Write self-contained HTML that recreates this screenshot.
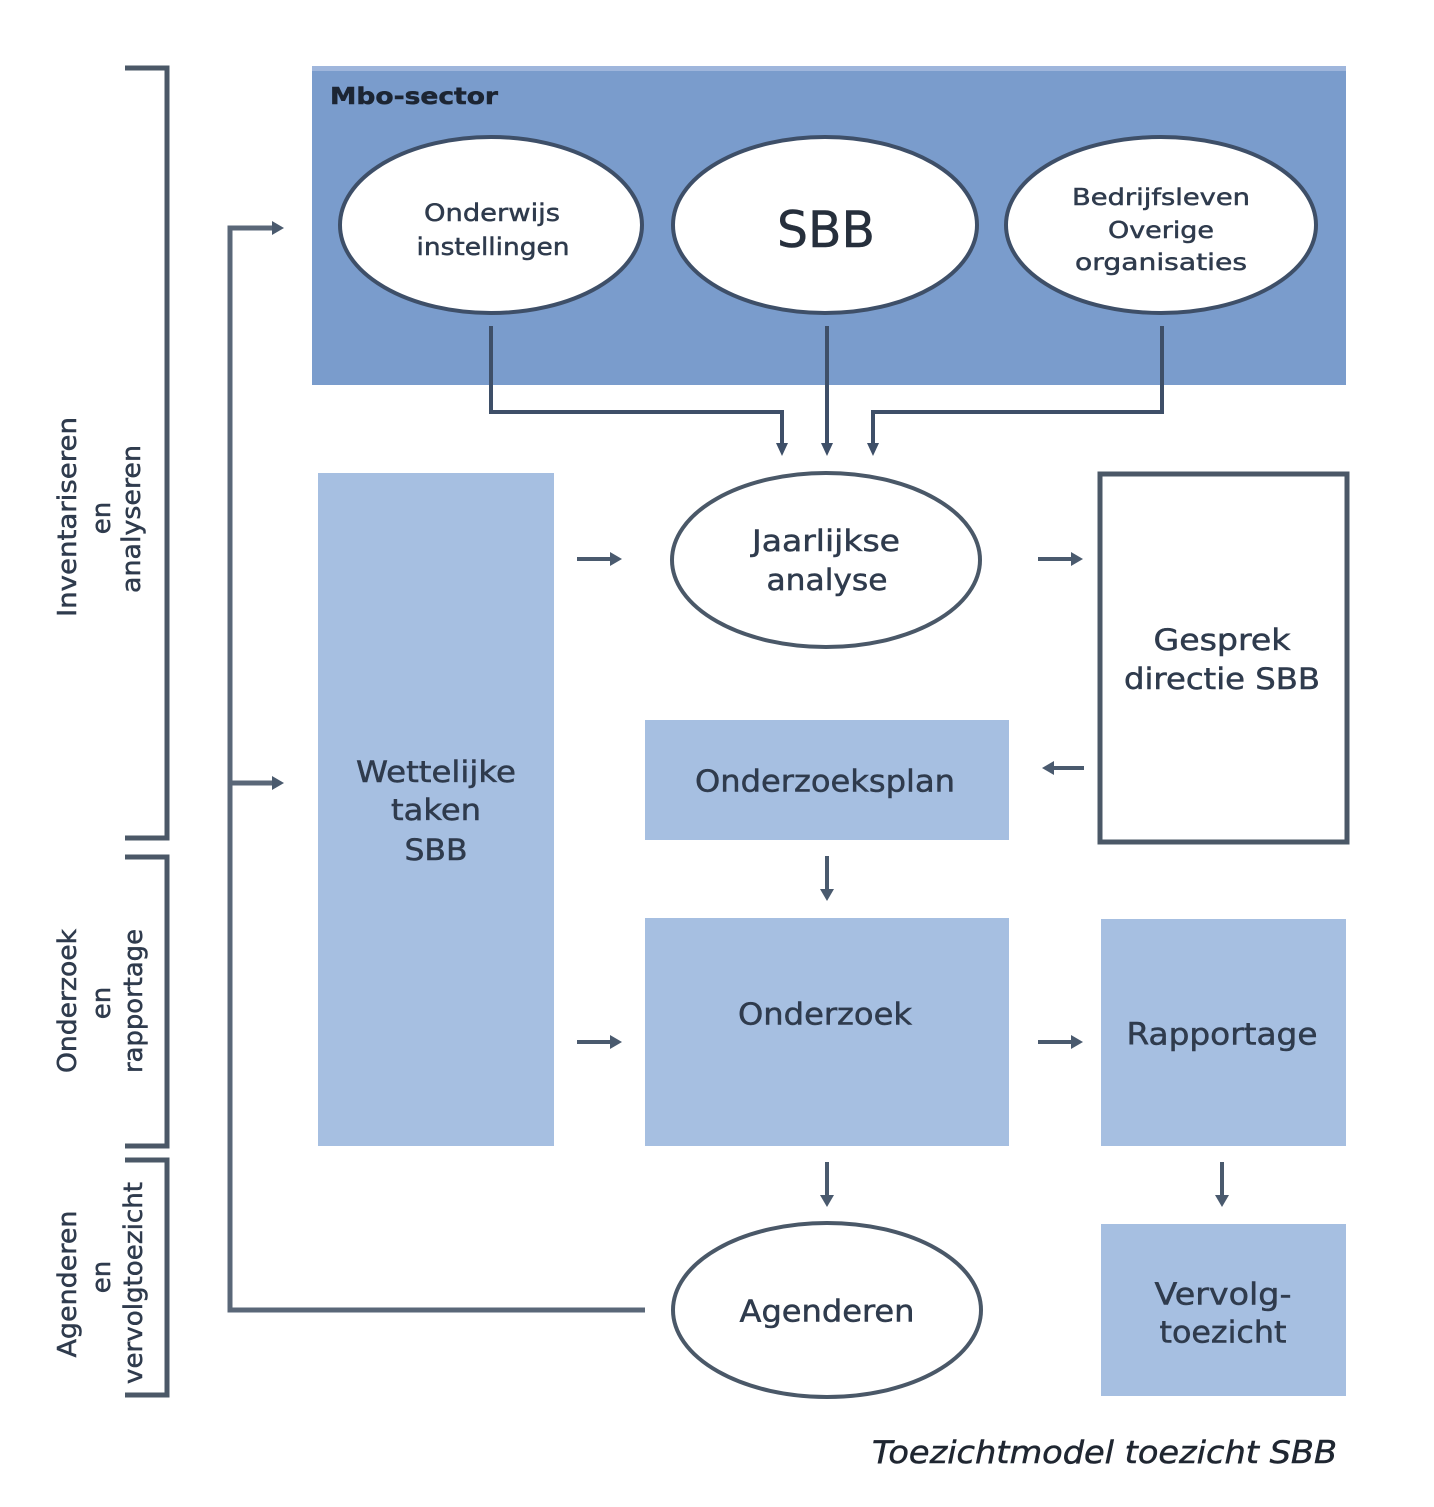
<!DOCTYPE html>
<html><head><meta charset="utf-8"><style>
html,body{margin:0;padding:0;background:#fff;}
svg{display:block;}
text{font-family:"DejaVu Sans","Liberation Sans",sans-serif;fill:#2f3b4d;stroke:#2f3b4d;stroke-width:0.5px;}
</style></head><body>
<svg width="1434" height="1507" viewBox="0 0 1434 1507" xmlns="http://www.w3.org/2000/svg">
<rect x="0" y="0" width="1434" height="1507" fill="#ffffff"/>

<!-- Left brackets -->
<g fill="none" stroke="#4b5867" stroke-width="5">
  <path d="M125 68 H167 V838 H125"/>
  <path d="M125 857 H167 V1146 H125"/>
  <path d="M125 1160 H167 V1395 H125"/>
</g>

<!-- Vertical labels -->
<g font-size="26" text-anchor="middle" dominant-baseline="central">
  <text transform="translate(68,517) rotate(-90)" textLength="200" lengthAdjust="spacingAndGlyphs">Inventariseren</text>
  <text transform="translate(102,518) rotate(-90)">en</text>
  <text transform="translate(132,519) rotate(-90)" textLength="148" lengthAdjust="spacingAndGlyphs">analyseren</text>

  <text transform="translate(68,1001) rotate(-90)" textLength="144" lengthAdjust="spacingAndGlyphs">Onderzoek</text>
  <text transform="translate(102,1003) rotate(-90)">en</text>
  <text transform="translate(134,1001) rotate(-90)" textLength="144" lengthAdjust="spacingAndGlyphs">rapportage</text>

  <text transform="translate(68,1284) rotate(-90)" textLength="147" lengthAdjust="spacingAndGlyphs">Agenderen</text>
  <text transform="translate(102,1277) rotate(-90)">en</text>
  <text transform="translate(134,1283) rotate(-90)" textLength="202" lengthAdjust="spacingAndGlyphs">vervolgtoezicht</text>
</g>

<!-- Feedback line -->
<g fill="none" stroke="#5a6778" stroke-width="5">
  <path d="M274 228 H230 V1310 H645"/>
  <path d="M230 783 H274"/>
</g>
<g fill="#4a5a6e">
  <polygon points="272,221 284,228 272,235"/>
  <polygon points="272,776 284,783 272,790"/>
</g>

<!-- Mbo-sector box -->
<rect x="312" y="66" width="1034" height="319" fill="#7a9ccc"/>
<rect x="312" y="66" width="1034" height="5" fill="#9fb6dc"/>
<text x="330" y="97" font-size="23" font-weight="bold" dominant-baseline="central" textLength="168" lengthAdjust="spacingAndGlyphs" style="fill:#1c2533;stroke:#1c2533">Mbo-sector</text>

<g fill="#ffffff" stroke="#3e4f68" stroke-width="4">
  <ellipse cx="491" cy="225" rx="151" ry="88"/>
  <ellipse cx="825" cy="225" rx="152" ry="88"/>
  <ellipse cx="1161" cy="225" rx="155" ry="88"/>
</g>
<g text-anchor="middle" dominant-baseline="central">
  <text x="492" y="213" font-size="24" textLength="136" lengthAdjust="spacingAndGlyphs">Onderwijs</text>
  <text x="493" y="247" font-size="24" textLength="153" lengthAdjust="spacingAndGlyphs">instellingen</text>
  <text x="826" y="230" font-size="50" textLength="98" lengthAdjust="spacingAndGlyphs" style="fill:#262f3c;stroke:#262f3c">SBB</text>
  <text x="1161" y="198" font-size="23" textLength="178" lengthAdjust="spacingAndGlyphs">Bedrijfsleven</text>
  <text x="1161" y="231" font-size="23" textLength="106" lengthAdjust="spacingAndGlyphs">Overige</text>
  <text x="1161" y="263" font-size="23" textLength="172" lengthAdjust="spacingAndGlyphs">organisaties</text>
</g>

<!-- connectors from ellipses -->
<g fill="none" stroke="#3e4f68" stroke-width="4">
  <path d="M491 326 V412 H782 V445"/>
  <path d="M827 326 V445"/>
  <path d="M1162 326 V412 H873 V445"/>
</g>
<g fill="#3e4f68">
  <polygon points="776,443 782,456 788,443"/>
  <polygon points="821,443 827,456 833,443"/>
  <polygon points="867,443 873,456 879,443"/>
</g>

<!-- Wettelijke taken SBB -->
<rect x="318" y="473" width="236" height="673" fill="#a6bfe1"/>
<g text-anchor="middle" dominant-baseline="central" font-size="29">
  <text x="436" y="772" textLength="160" lengthAdjust="spacingAndGlyphs">Wettelijke</text>
  <text x="436" y="810" textLength="90" lengthAdjust="spacingAndGlyphs">taken</text>
  <text x="436" y="850" textLength="63" lengthAdjust="spacingAndGlyphs">SBB</text>
</g>

<!-- Jaarlijkse analyse -->
<ellipse cx="826" cy="560" rx="154" ry="87" fill="#ffffff" stroke="#4a5868" stroke-width="4"/>
<g text-anchor="middle" dominant-baseline="central" font-size="29">
  <text x="826" y="541" textLength="148" lengthAdjust="spacingAndGlyphs">Jaarlijkse</text>
  <text x="827" y="580" textLength="121" lengthAdjust="spacingAndGlyphs">analyse</text>
</g>

<!-- Gesprek directie SBB -->
<rect x="1100" y="474" width="247" height="368" fill="#ffffff" stroke="#4b5867" stroke-width="5"/>
<g text-anchor="middle" dominant-baseline="central" font-size="29">
  <text x="1222" y="640" textLength="137" lengthAdjust="spacingAndGlyphs">Gesprek</text>
  <text x="1222" y="679" textLength="196" lengthAdjust="spacingAndGlyphs">directie SBB</text>
</g>

<!-- Onderzoeksplan -->
<rect x="645" y="720" width="364" height="120" fill="#a6bfe1"/>
<text x="825" y="782" font-size="30" text-anchor="middle" dominant-baseline="central" textLength="260" lengthAdjust="spacingAndGlyphs">Onderzoeksplan</text>

<!-- Onderzoek -->
<rect x="645" y="918" width="364" height="228" fill="#a6bfe1"/>
<text x="825" y="1015" font-size="30" text-anchor="middle" dominant-baseline="central" textLength="174" lengthAdjust="spacingAndGlyphs">Onderzoek</text>

<!-- Rapportage -->
<rect x="1101" y="919" width="245" height="227" fill="#a6bfe1"/>
<text x="1222" y="1035" font-size="30" text-anchor="middle" dominant-baseline="central" textLength="191" lengthAdjust="spacingAndGlyphs">Rapportage</text>

<!-- Agenderen -->
<ellipse cx="827" cy="1310" rx="154" ry="87" fill="#ffffff" stroke="#4a5868" stroke-width="4"/>
<text x="827" y="1312" font-size="30" text-anchor="middle" dominant-baseline="central" textLength="175" lengthAdjust="spacingAndGlyphs">Agenderen</text>

<!-- Vervolgtoezicht -->
<rect x="1101" y="1224" width="245" height="172" fill="#a6bfe1"/>
<g text-anchor="middle" dominant-baseline="central" font-size="30">
  <text x="1223" y="1295" textLength="137" lengthAdjust="spacingAndGlyphs">Vervolg-</text>
  <text x="1223" y="1333" textLength="127" lengthAdjust="spacingAndGlyphs">toezicht</text>
</g>

<!-- small arrows -->
<g stroke="#4a5a6e" stroke-width="4" fill="none">
  <path d="M577 559 H612"/>
  <path d="M1038 559 H1073"/>
  <path d="M1084 768 H1052"/>
  <path d="M827 856 V891"/>
  <path d="M577 1042 H612"/>
  <path d="M1038 1042 H1073"/>
  <path d="M827 1162 V1197"/>
  <path d="M1222 1162 V1197"/>
</g>
<g fill="#4a5a6e">
  <polygon points="610,552 622,559 610,566"/>
  <polygon points="1071,552 1083,559 1071,566"/>
  <polygon points="1054,761 1042,768 1054,775"/>
  <polygon points="820,889 827,901 834,889"/>
  <polygon points="610,1035 622,1042 610,1049"/>
  <polygon points="1071,1035 1083,1042 1071,1049"/>
  <polygon points="820,1195 827,1207 834,1195"/>
  <polygon points="1215,1195 1222,1207 1229,1195"/>
</g>

<!-- Caption -->
<text x="872" y="1453" font-size="31" font-style="italic" dominant-baseline="central" textLength="465" lengthAdjust="spacingAndGlyphs" style="fill:#1f2631;stroke:#1f2631">Toezichtmodel toezicht SBB</text>
</svg>
</body></html>
